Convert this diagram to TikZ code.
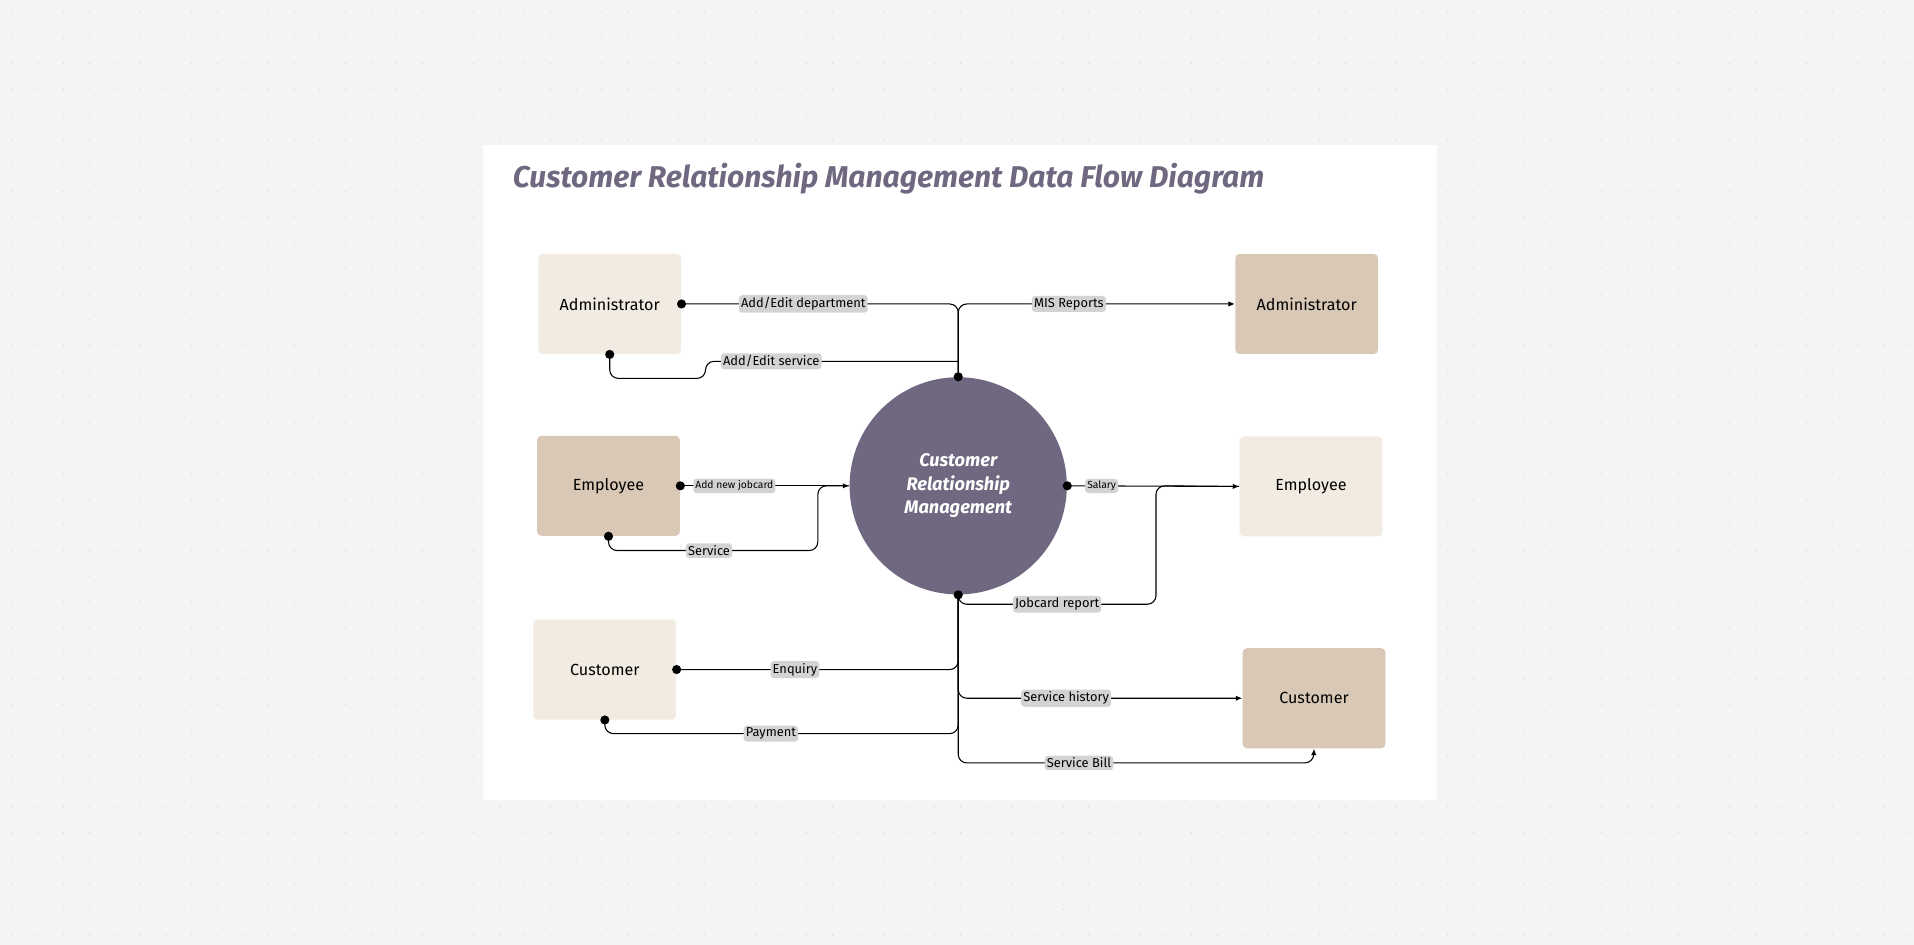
\documentclass[tikz,border=0pt]{standalone}
\usepackage{fontspec}
\setmainfont{Fira Sans}
\usetikzlibrary{positioning,arrows.meta}

\definecolor{canvas}{HTML}{F4F4F4}
\definecolor{griddot}{HTML}{DADADA}
\definecolor{sand}{HTML}{F1EBE1}
\definecolor{tan}{HTML}{D9C8B5}
\definecolor{plum}{HTML}{6F6880}
\definecolor{tag}{HTML}{D3D3D3}

\tikzset{
  box/.style={rectangle, rounded corners=2pt, minimum width=2.34cm, minimum height=1.64cm,
    font=\fontsize{7.5}{9}\selectfont},
  flow/.style={draw, line width=0.5pt, rounded corners=4pt},
  arr/.style={-{Latex[length=3pt,width=2.5pt]}},
  lbl/.style={fill=tag, rounded corners=1.5pt, inner sep=1pt, font=\fontsize{6}{7}\selectfont},
  slbl/.style={lbl, font=\fontsize{4.8}{6}\selectfont},
  dot/.style={circle, fill=black, inner sep=0pt, minimum size=0.15cm}
}

\begin{document}
\begin{tikzpicture}[x=0.02cm, y=-0.02cm]
		% background and panel
		\fill[canvas] (0,0) rectangle (1568,774);
		\foreach \i in {0,...,74} \foreach \j in {0,...,36}
			\fill[griddot] (\i*21+10,\j*21+10) circle (0.012cm);
		\fill[white] (396,119) rectangle (1177,655);
		\node[anchor=west, text=plum, font=\fontsize{14}{16}\selectfont\bfseries\itshape] (title) at (414,146)
			{Customer Relationship Management Data Flow Diagram};

		% entities
		\node[box, fill=sand] (adminL) at (499.5,249) {Administrator};
		\node[box, fill=tan] (empL) at (498.5,398) {Employee};
		\node[box, fill=sand] (custL) at (495.5,548.5) {Customer};
		\node[box, fill=tan] (adminR) at (1070.5,249) {Administrator};
		\node[box, fill=sand] (empR) at (1074,398.5) {Employee};
		\node[box, fill=tan] (custR) at (1076.5,572) {Customer};

		% process
		\node[circle, fill=plum, minimum size=3.56cm, text=white, align=center,
			font=\fontsize{8.5}{11}\selectfont\bfseries\itshape] (crm) at (785,398)
			{Customer\\Relationship\\Management};

		% flows
		\draw[flow] (adminL.east) -| node[lbl,pos=.22]{Add/Edit department} (crm.north);
		\draw[flow] (adminL.south) |- (578,310) -- (578,296) -- node[lbl,pos=.26]{Add/Edit service} (785,296);
		\draw[flow,arr] (crm.north) |- node[lbl,pos=.70]{MIS Reports} (adminR.west);
		\draw[flow,arr] (empL.east) -- node[slbl,pos=.32]{Add new jobcard} (crm.west);
		\draw[flow] (empL.south) |- node[lbl,pos=.74]{Service} (670,451) -- (670,398) -- (crm.west);
		\draw[flow,arr] (crm.east) -- node[slbl,pos=.2]{Salary} (empR.west);
		\draw[flow] (crm.south) |- node[lbl,pos=.75]{Jobcard report} (947,495) -- (947,398) -- (empR.west);
		\draw[flow] (custL.east) -| node[lbl,pos=.21]{Enquiry} (crm.south);
		\draw[flow] (custL.south) |- node[lbl,pos=.735]{Payment} (785,601) -- (crm.south);
		\draw[flow,arr] (crm.south) |- node[lbl,pos=.69]{Service history} (custR.west);
		\draw[flow,arr] (crm.south) |- node[lbl,pos=.67]{Service Bill} (1076,625) -- (custR.south);

		% end dots
		\node[dot] (d1) at (adminL.east) {};
		\node[dot] (d2) at (adminL.south) {};
		\node[dot] (d3) at (crm.north) {};
		\node[dot] (d4) at (empL.east) {};
		\node[dot] (d5) at (empL.south) {};
		\node[dot] (d6) at (crm.east) {};
		\node[dot] (d7) at (crm.south) {};
		\node[dot] (d8) at (custL.east) {};
		\node[dot] (d9) at (custL.south) {};
\end{tikzpicture}
\end{document}
